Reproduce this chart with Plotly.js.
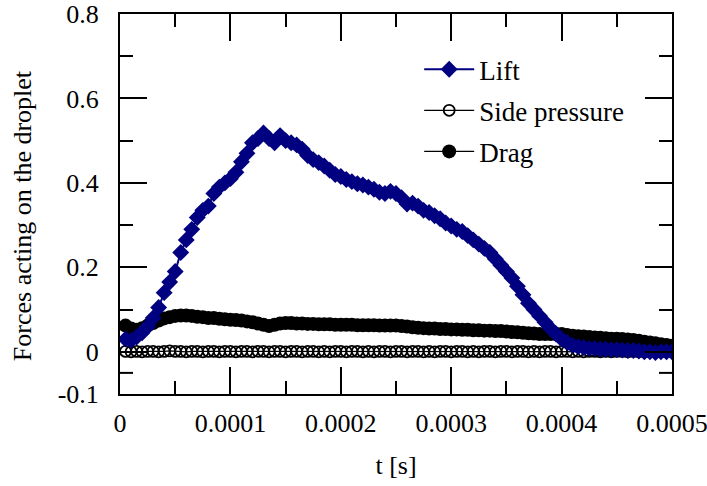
<!DOCTYPE html>
<html>
<head>
<meta charset="utf-8">
<script src="https://cdn.plot.ly/plotly-3.0.1.min.js"></script>
<style>html,body{margin:0;padding:0;background:#fff}#chart{width:707px;height:486px}</style>
</head>
<body>
<div id="chart"></div>
<script>
// time in microseconds
var timeMicro = [5,10,15,20,25,30,35,40,45,50,55,60,65,70,75,80,85,90,95,100,
  105,110,115,120,125,130,135,140,145,150,155,160,165,170,175,180,185,190,195,200,
  205,210,215,220,225,230,235,240,245,250,255,260,265,270,275,280,285,290,295,300,
  305,310,315,320,325,330,335,340,345,350,355,360,365,370,375,380,385,390,395,400,
  405,410,415,420,425,430,435,440,445,450,455,460,465,470,475,480,485,490,495,500];

var lift = [0.030,0.027,0.035,0.045,0.060,0.080,0.105,0.140,0.165,0.190,
  0.235,0.265,0.290,0.318,0.335,0.345,0.375,0.390,0.400,0.410,
  0.425,0.450,0.470,0.495,0.505,0.518,0.505,0.495,0.512,0.500,
  0.495,0.490,0.480,0.465,0.455,0.448,0.440,0.430,0.420,0.415,
  0.408,0.403,0.398,0.395,0.390,0.385,0.378,0.375,0.380,0.375,
  0.365,0.350,0.352,0.345,0.335,0.330,0.322,0.315,0.305,0.298,
  0.290,0.285,0.275,0.265,0.255,0.245,0.235,0.220,0.205,0.190,
  0.175,0.155,0.135,0.115,0.100,0.085,0.070,0.055,0.042,0.030,
  0.022,0.015,0.012,0.010,0.008,0.008,0.006,0.006,0.005,0.005,
  0.004,0.003,0.003,0.002,0.000,0.000,-0.002,0.000,0.000,0.000];

var sidePressure = [0.001,0.000,0.001,0.000,0.001,0.001,0.000,0.001,0.002,0.001,
  0.001,0.000,0.001,0.001,0.000,0.001,0.001,0.000,0.001,0.001,
  0.000,0.001,0.001,0.000,0.001,0.001,0.000,0.001,0.001,0.000,
  0.001,0.001,0.000,0.001,0.001,0.000,0.001,0.000,0.001,0.001,
  0.000,0.001,0.001,0.000,0.001,0.000,0.001,0.001,0.000,0.001,
  0.001,0.000,0.001,0.001,0.000,0.001,0.000,0.001,0.001,0.000,
  0.001,0.001,0.000,0.001,0.000,0.001,0.001,0.000,0.001,0.001,
  0.000,0.001,0.001,0.000,0.001,0.000,0.001,0.001,0.000,0.001,
  0.001,0.000,0.001,0.000,0.001,0.001,0.000,0.001,0.000,0.001,
  0.001,0.000,0.001,0.000,0.001,0.000,0.001,0.000,0.001,0.000];

var drag = [0.062,0.055,0.052,0.056,0.062,0.068,0.074,0.079,0.082,0.085,
  0.086,0.086,0.085,0.083,0.082,0.080,0.080,0.078,0.077,0.076,
  0.075,0.074,0.072,0.070,0.067,0.064,0.061,0.064,0.067,0.068,
  0.068,0.067,0.067,0.066,0.066,0.065,0.065,0.065,0.064,0.064,
  0.064,0.064,0.063,0.063,0.063,0.063,0.062,0.062,0.062,0.062,
  0.061,0.060,0.058,0.057,0.056,0.055,0.055,0.054,0.054,0.053,
  0.053,0.052,0.052,0.051,0.051,0.050,0.050,0.049,0.049,0.048,
  0.047,0.046,0.045,0.044,0.043,0.042,0.042,0.042,0.042,0.042,
  0.040,0.038,0.037,0.036,0.035,0.034,0.033,0.032,0.031,0.031,
  0.030,0.029,0.028,0.026,0.024,0.022,0.020,0.018,0.016,0.014];

var seriesNames = ['Lift', 'Side pressure', 'Drag'];
var yTickVals = [-0.1, 0, 0.2, 0.4, 0.6, 0.8];
var yTickText = ['-0.1', '0', '0.2', '0.4', '0.6', '0.8'];
var xTickVals = [0, 0.0001, 0.0002, 0.0003, 0.0004, 0.0005];
var xTickText = ['0', '0.0001', '0.0002', '0.0003', '0.0004', '0.0005'];
var xTitle = 't [s]';
var yTitle = 'Forces acting on the droplet';

var t = timeMicro.map(function(v){ return v * 1e-6; });

var FONT = 'Liberation Serif';

var traces = [
  {x: t, y: sidePressure, name: seriesNames[1], type: 'scatter', mode: 'lines+markers',
   legendgroup: 'b', legendrank: 2,
   line: {color: '#000', width: 1.2},
   marker: {symbol: 'circle-open', size: 11, color: '#000', line: {width: 1.8, color: '#000'}}},
  {x: t, y: drag, name: seriesNames[2], type: 'scatter', mode: 'lines+markers',
   legendgroup: 'c', legendrank: 3,
   line: {color: '#000', width: 1.2},
   marker: {symbol: 'circle', size: 14, color: '#000'}},
  {x: t, y: lift, name: seriesNames[0], type: 'scatter', mode: 'lines+markers',
   legendgroup: 'a', legendrank: 1,
   line: {color: '#000080', width: 2},
   marker: {symbol: 'diamond', size: 13, color: '#000080'}}
];

var axisCommon = {
  showline: true, linecolor: '#000', linewidth: 2, mirror: 'ticks',
  ticks: 'inside', ticklen: 27, tickwidth: 2, tickcolor: '#000',
  showgrid: false, zeroline: false, ticklabeloverflow: 'allow',
  tickfont: {family: FONT, size: 26, color: '#000'}
};

var layout = {
  width: 707, height: 486,
  paper_bgcolor: '#fff', plot_bgcolor: '#fff',
  font: {family: FONT, size: 26, color: '#000'},
  margin: {l: 120, r: 35, t: 14, b: 92},
  showlegend: true,
  legend: {x: 0.542, y: 0.918, xanchor: 'left', yanchor: 'top',
    traceorder: 'grouped', tracegroupgap: 3, itemwidth: 50,
    bgcolor: 'rgba(0,0,0,0)', font: {family: FONT, size: 27, color: '#000'}},
  xaxis: Object.assign({}, axisCommon, {
    range: [0, 0.0005], tickvals: xTickVals, ticktext: xTickText,
    ticklabelstandoff: 5,
    minor: {dtick: 0.00005, tick0: 0, ticks: 'inside', ticklen: 13, tickwidth: 2, tickcolor: '#000', showgrid: false},
    title: {text: xTitle, font: {family: FONT, size: 26, color: '#000'}, standoff: 19}
  }),
  yaxis: Object.assign({}, axisCommon, {
    range: [-0.1, 0.8], tickvals: yTickVals, ticktext: yTickText,
    ticklabelstandoff: 14,
    minor: {dtick: 0.1, tick0: 0, ticks: 'inside', ticklen: 13, tickwidth: 2, tickcolor: '#000', showgrid: false},
    title: {text: ''}
  }),
  annotations: [
    {text: yTitle, xref: 'paper', yref: 'paper', x: 0, y: 0.468, xshift: -98,
     xanchor: 'center', yanchor: 'middle', textangle: -90, showarrow: false,
     font: {family: FONT, size: 26, color: '#000'}}
  ],
  shapes: [
    {type: 'line', xref: 'paper', yref: 'y', xsizemode: 'pixel', xanchor: 0, x0: 0, x1: 13, y0: -0.05, y1: -0.05, line: {color: '#000', width: 2}},
    {type: 'line', xref: 'paper', yref: 'y', xsizemode: 'pixel', xanchor: 1, x0: -13, x1: 0, y0: -0.05, y1: -0.05, line: {color: '#000', width: 2}}
  ]
};

Plotly.newPlot('chart', traces, layout, {displayModeBar: false, staticPlot: true});
</script>
</body>
</html>
